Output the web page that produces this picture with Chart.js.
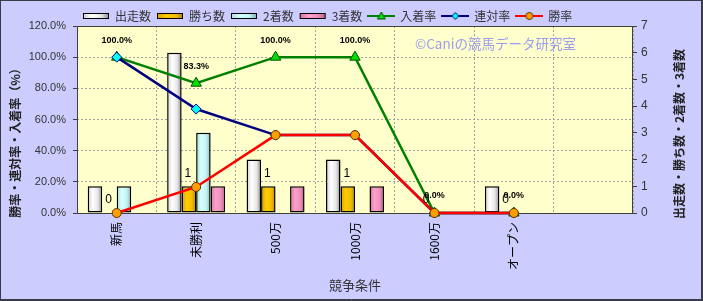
<!DOCTYPE html>
<html>
<head>
<meta charset="utf-8">
<script src="https://cdn.jsdelivr.net/npm/chart.js@4/dist/chart.umd.min.js"></script>
<style>
  html, body { margin: 0; padding: 0; background: #ccccff; }
  canvas { display: block; }
</style>
</head>
<body>
<canvas id="c" width="703" height="301"></canvas>
<script>
// ---- data ----
const categories = ['新馬', '未勝利', '500万', '1000万', '1600万', 'オープン', ''];
const starts     = [1, 6, 2, 2, 0, 1, null];     // 出走数
const wins       = [0, 1, 1, 1, 0, 0, null];     // 勝ち数
const seconds    = [1, 3, 0, 0, 0, 0, null];     // 2着数
const thirds     = [0, 1, 1, 1, 0, 0, null];     // 3着数
const placeRate  = [100, 83.3, 100, 100, 0, 0, null];  // 入着率
const rentaiRate = [100, 66.7, 50, 50, 0, 0, null];    // 連対率
const winRate    = [0, 16.7, 50, 50, 0, 0, null];      // 勝率
const leftTicks  = [0, 20, 40, 60, 80, 100, 120];
const rightTicks = [0, 1, 2, 3, 4, 5, 6, 7];

const CAT_PCT = 0.73;
const BAR_PCT = 1.0;
const JP = '"Noto Sans CJK JP", "Noto Sans", sans-serif';
const LAT = '"Liberation Sans", Arial, sans-serif';

const gradWhite = [[0, '#cfcfcf'], [0.35, '#ffffff'], [0.7, '#e6e6e6'], [1, '#8a8a8a']];
const gradGold  = [[0, '#d89c00'], [0.35, '#ffcc00'], [0.7, '#f2be00'], [1, '#b88400']];
const gradCyan  = [[0, '#a8dede'], [0.35, '#d8ffff'], [0.7, '#c4f2f2'], [1, '#80b4b4']];
const gradPink  = [[0, '#d8709c'], [0.35, '#ffa0cc'], [0.7, '#f090bc'], [1, '#b85c88']];

function barGrad(stops, fallback) {
  return function (c) {
    const chart = c.chart;
    const xs = chart.scales && chart.scales.x;
    if (c.type !== 'data' || !xs || !(xs.right > xs.left)) return fallback;
    const n = categories.length;
    const cw = (xs.right - xs.left) / n;
    const group = cw * CAT_PCT, slot = group / 4;
    const cx = xs.getPixelForValue(c.dataIndex) - group / 2 + slot * (c.datasetIndex + 0.5);
    const bw = slot * BAR_PCT;
    const g = chart.ctx.createLinearGradient(cx - bw / 2, 0, cx + bw / 2, 0);
    stops.forEach(s => g.addColorStop(s[0], s[1]));
    return g;
  };
}

function swatchBar(stops) {
  const cv = document.createElement('canvas');
  cv.width = 28; cv.height = 10;
  const x = cv.getContext('2d');
  const g = x.createLinearGradient(1, 0, 27, 0);
  stops.forEach(s => g.addColorStop(s[0], s[1]));
  x.fillStyle = g;
  x.fillRect(1.5, 2.5, 25, 5);
  x.strokeStyle = '#000'; x.lineWidth = 1;
  x.strokeRect(1.5, 2.5, 25, 5);
  return cv;
}
function swatchLine(color, shape, fill, edge) {
  const cv = document.createElement('canvas');
  cv.width = 28; cv.height = 12;
  const x = cv.getContext('2d');
  x.strokeStyle = color; x.lineWidth = 2;
  x.beginPath(); x.moveTo(0, 6); x.lineTo(28, 6); x.stroke();
  x.fillStyle = fill; x.strokeStyle = edge; x.lineWidth = 1;
  x.beginPath();
  if (shape === 'triangle') { x.moveTo(14, 2); x.lineTo(18, 9); x.lineTo(10, 9); x.closePath(); }
  else if (shape === 'diamond') { x.moveTo(14, 2.5); x.lineTo(17.5, 6); x.lineTo(14, 9.5); x.lineTo(10.5, 6); x.closePath(); }
  else { x.arc(14, 6, 3.5, 0, Math.PI * 2); }
  x.fill(); x.stroke();
  return cv;
}

const swatches = [
  swatchBar(gradWhite), swatchBar(gradGold), swatchBar(gradCyan), swatchBar(gradPink),
  swatchLine('#008000', 'triangle', '#00e000', '#005000'),
  swatchLine('#000080', 'diamond', '#00ffff', '#000080'),
  swatchLine('#ff0000', 'circle', '#ffa000', '#603000')
];

const decor = {
  id: 'decor',
  beforeLayout(chart) {
    const lg = chart.legend;
    if (lg && !lg._patched) {
      const orig = lg.fit.bind(lg);
      lg.fit = function () { orig(); this.height = 22; };
      lg._patched = true;
    }
  },
  beforeDraw(chart) {
    const { ctx, chartArea: a } = chart;
    ctx.save();
    ctx.fillStyle = '#ccccff';
    ctx.fillRect(0, 0, chart.width, chart.height);
    ctx.fillStyle = '#ffffcc';
    ctx.fillRect(a.left, a.top, a.right - a.left, a.bottom - a.top);
    ctx.restore();
  },
  beforeDatasetsDraw(chart) {
    const { ctx, chartArea: a } = chart;
    ctx.save();
    ctx.strokeStyle = '#404040'; ctx.lineWidth = 1;
    ctx.strokeRect(a.left + 0.5, a.top + 0.5, a.right - a.left - 1, a.bottom - a.top);
    // watermark
    ctx.font = '13.5px ' + JP;
    ctx.fillStyle = '#9d9df0';
    ctx.textAlign = 'left'; ctx.textBaseline = 'middle';
    ctx.fillText('©Caniの競馬データ研究室', 415, 44);
    ctx.restore();
  },
  afterDatasetsDraw(chart) {
    const ctx = chart.ctx;
    ctx.save();
    ctx.fillStyle = '#000';
    ctx.textAlign = 'center'; ctx.textBaseline = 'middle';
    ctx.font = '12px ' + LAT;
    chart.getDatasetMeta(1).data.forEach((el, i) => {
      if (wins[i] == null || !isFinite(el.x)) return;
      ctx.fillText(String(wins[i]), el.x - 1, el.y - 13);
    });
    ctx.font = 'bold 9px ' + LAT;
    chart.getDatasetMeta(4).data.forEach((el, i) => {
      if (placeRate[i] == null || !isFinite(el.x)) return;
      ctx.fillText(placeRate[i].toFixed(1) + '%', el.x, el.y - 17);
    });
    ctx.restore();
  },
  afterDraw(chart) {
    const ctx = chart.ctx;
    ctx.save();
    ctx.fillStyle = '#222';
    ctx.font = 'bold 12px ' + JP;
    ctx.textAlign = 'center'; ctx.textBaseline = 'middle';
    ctx.translate(15, 140); ctx.rotate(-Math.PI / 2);
    ctx.fillText('勝率・連対率・入着率（%）', 0, 0);
    ctx.restore();
    ctx.save();
    ctx.fillStyle = '#222';
    ctx.font = 'bold 12px ' + JP;
    ctx.textAlign = 'center'; ctx.textBaseline = 'middle';
    ctx.translate(679, 134); ctx.rotate(-Math.PI / 2);
    ctx.fillText('出走数・勝ち数・2着数・3着数', 0, 0);
    ctx.restore();
    // outer frame
    ctx.save();
    ctx.strokeStyle = '#3a3a48'; ctx.lineWidth = 1;
    ctx.strokeRect(0.5, 0.5, chart.width - 1, chart.height - 1);
    ctx.beginPath();
    ctx.moveTo(chart.width - 1.5, 0); ctx.lineTo(chart.width - 1.5, chart.height);
    ctx.moveTo(0, chart.height - 1.5); ctx.lineTo(chart.width, chart.height - 1.5);
    ctx.stroke();
    ctx.restore();
  }
};

const barCommon = {
  type: 'bar', yAxisID: 'y1', order: 3,
  borderColor: '#000', borderWidth: 1.5, borderSkipped: false,
  categoryPercentage: CAT_PCT, barPercentage: BAR_PCT
};
const lineCommon = {
  type: 'line', yAxisID: 'y', tension: 0, borderWidth: 2.5, clip: false,
  pointBorderWidth: 1, spanGaps: false
};

new Chart(document.getElementById('c'), {
  data: {
    labels: categories,
    datasets: [
      Object.assign({}, barCommon, { label: '出走数', data: starts, backgroundColor: barGrad(gradWhite, '#eeeeee') }),
      Object.assign({}, barCommon, { label: '勝ち数', data: wins, backgroundColor: barGrad(gradGold, '#f0c000') }),
      Object.assign({}, barCommon, { label: '2着数', data: seconds, backgroundColor: barGrad(gradCyan, '#c8f4f4') }),
      Object.assign({}, barCommon, { label: '3着数', data: thirds, backgroundColor: barGrad(gradPink, '#f090c0') }),
      Object.assign({}, lineCommon, { label: '入着率', data: placeRate, order: 2,
        borderColor: '#008000', pointStyle: 'triangle', pointRadius: 6,
        pointBackgroundColor: '#00e000', pointBorderColor: '#005000' }),
      Object.assign({}, lineCommon, { label: '連対率', data: rentaiRate, order: 1,
        borderColor: '#000080', pointStyle: 'rectRot', pointRadius: 5,
        pointBackgroundColor: '#00ffff', pointBorderColor: '#000080' }),
      Object.assign({}, lineCommon, { label: '勝率', data: winRate, order: 0,
        borderColor: '#ff0000', pointStyle: 'circle', pointRadius: 4.5,
        pointBackgroundColor: '#ffa000', pointBorderColor: '#603000' })
    ]
  },
  options: {
    responsive: false,
    animation: false,
    devicePixelRatio: 1,
    layout: { padding: { top: 4, left: 0, right: 0, bottom: 0 } },
    plugins: {
      tooltip: { enabled: false },
      legend: {
        position: 'top', align: 'start', fullSize: false,
        labels: {
          usePointStyle: true, pointStyleWidth: 26, padding: 6,
          color: '#333', font: { family: JP, size: 12 },
          generateLabels(chart) {
            return chart.data.datasets.map((ds, i) => ({
              text: ds.label, pointStyle: swatches[i], datasetIndex: i,
              fillStyle: 'rgba(0,0,0,0)', strokeStyle: 'rgba(0,0,0,0)', lineWidth: 0,
              fontColor: '#333', hidden: false
            }));
          }
        }
      }
    },
    scales: {
      x: {
        type: 'category', offset: true,
        grid: { offset: true, color: '#a0a0a0', lineWidth: 1, drawTicks: false },
        border: { display: false, dash: [2, 2] },
        ticks: { color: '#000', font: { family: JP, size: 12 }, minRotation: 90, maxRotation: 90, padding: 9, autoSkip: false },
        title: { display: true, text: '競争条件', color: '#333', font: { family: JP, size: 13 }, padding: { top: 0, bottom: 8 } },
        afterFit(s) { s.height = 88; }
      },
      y: {
        position: 'left', min: 0, max: 120,
        afterBuildTicks(s) { s.ticks = leftTicks.map(v => ({ value: v })); },
        grid: { color: '#a0a0a0', lineWidth: 1, tickLength: 4, tickColor: '#404040', tickBorderDash: [] },
        border: { display: false, dash: [2, 2] },
        ticks: { color: '#333', font: { family: LAT, size: 11 }, padding: 7,
          callback: v => Number(v).toFixed(1) + '%' },
        afterFit(s) { s.width = 77; }
      },
      y1: {
        position: 'right', min: 0, max: 7,
        afterBuildTicks(s) { s.ticks = rightTicks.map(v => ({ value: v })); },
        grid: { drawOnChartArea: false, tickLength: 4, tickColor: '#404040', color: '#404040' },
        border: { display: false },
        ticks: { color: '#333', font: { family: LAT, size: 12 }, padding: 4 },
        afterFit(s) { s.width = 70; }
      }
    }
  },
  plugins: [decor]
});
</script>
</body>
</html>
